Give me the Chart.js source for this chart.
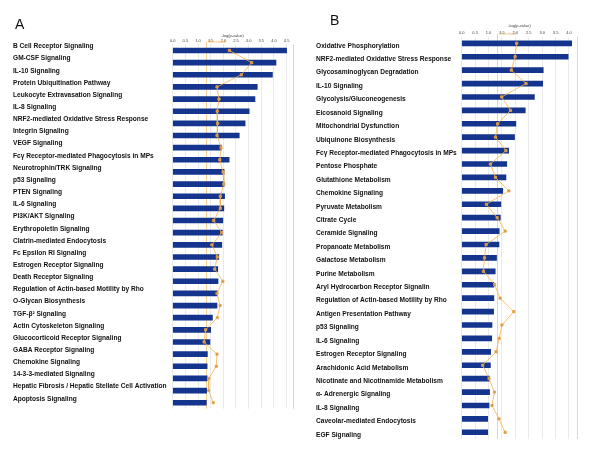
<!DOCTYPE html>
<html><head><meta charset="utf-8">
<script src="https://cdn.jsdelivr.net/npm/chart.js@4.4.1/dist/chart.umd.min.js"></script>
<style>
html,body{margin:0;padding:0;background:#fff;width:600px;height:450px;overflow:hidden;}
#wrap{position:relative;width:600px;height:450px;}
canvas{position:absolute;top:0;}
#cA{left:0;} #cB{left:300px;}
.panel{position:absolute;font-family:"Liberation Sans",Arial,sans-serif;font-size:14px;line-height:14px;color:#111;}
</style></head><body>
<div id="wrap">
<canvas id="cA" width="300" height="450"></canvas>
<canvas id="cB" width="300" height="450"></canvas>
<div class="panel" style="left:15px;top:16.5px;">A</div>
<div class="panel" style="left:330px;top:13px;">B</div>
</div>
<script>
const THRESHOLD = 1.3;

const labelsA = ["B Cell Receptor Signaling","GM-CSF Signaling","IL-10 Signaling","Protein Ubiquitination Pathway","Leukocyte Extravasation Signaling","IL-8 Signaling","NRF2-mediated Oxidative Stress Response","Integrin Signaling","VEGF Signaling","Fc\u03B3 Receptor-mediated Phagocytosis in MPs","Neurotrophin/TRK Signaling","p53 Signaling","PTEN Signaling","IL-6 Signaling","PI3K/AKT Signaling","Erythropoietin Signaling","Clatrin-mediated Endocytosis","Fc Epsilon RI Signaling","Estrogen Receptor Signaling","Death Receptor Signaling","Regulation of Actin-based Motility by Rho","O-Glycan Biosynthesis","TGF-\u03B2\u00B2 Signaling","Actin Cytoskeleton Signaling","Glucocorticoid Receptor Signaling","GABA Receptor Signaling","Chemokine Signaling","14-3-3-mediated Signaling","Hepatic Fibrosis / Hepatic Stellate Cell Activation","Apoptosis Signaling"];
const pValuesA = [4.50,4.08,3.94,3.34,3.25,3.02,2.86,2.63,1.92,2.23,2.03,2.03,2.05,2.02,1.98,1.96,1.94,1.82,1.78,1.79,1.76,1.75,1.57,1.50,1.47,1.37,1.36,1.36,1.34,1.33];
const ratioA = [2.24,3.12,2.71,1.75,1.83,1.76,1.78,1.75,1.91,1.86,1.99,2.02,1.88,1.88,1.62,1.94,1.55,1.76,1.66,1.98,1.75,1.87,1.76,1.30,1.24,1.75,1.72,1.43,1.42,1.60];

const labelsB = ["Oxidative Phosphorylation","NRF2-mediated Oxidative Stress Response","Glycosaminoglycan Degradation","IL-10 Signaling","Glycolysis/Gluconeogenesis","Eicosanoid Signaling","Mitochondrial Dysfunction","Ubiquinone Biosynthesis","Fc\u03B3 Receptor-mediated Phagocytosis in MPs","Pentose Phosphate","Glutathione Metabolism","Chemokine Signaling","Pyruvate Metabolism","Citrate Cycle","Ceramide Signaling","Propanoate Metabolism","Galactose Metabolism","Purine Metabolism","Aryl Hydrocarbon Receptor Signalin","Regulation of Actin-based Motility by Rho","Antigen Presentation Pathway","p53 Signaling","IL-6 Signaling","Estrogen Receptor Signaling","Arachidonic Acid Metabolism","Nicotinate and Nicotinamide Metabolism","\u03B1- Adrenergic Signaling","IL-8 Signaling","Caveolar-mediated Endocytosis","EGF Signaling"];
const pValuesB = [4.10,3.97,3.04,3.02,2.71,2.37,2.02,1.97,1.75,1.68,1.65,1.53,1.46,1.44,1.40,1.39,1.30,1.25,1.20,1.20,1.19,1.13,1.12,1.08,1.07,1.03,1.04,1.02,0.97,0.97];
const ratioB = [2.05,1.99,1.85,2.40,1.49,1.82,1.34,1.26,1.65,1.07,1.26,1.76,0.92,1.32,1.62,0.91,0.85,0.81,1.23,1.43,1.94,1.50,1.40,1.28,0.78,1.02,1.22,1.13,1.39,1.62];

Chart.defaults.font.family = '"Liberation Sans", Arial, sans-serif';

const extras = {
  id:'extras',
  beforeDatasetsDraw(chart){
    const {ctx, chartArea:a, scales:{x}} = chart;
    ctx.save();
    ctx.strokeStyle = '#d6d6d6'; ctx.lineWidth = 1;
    ctx.beginPath(); ctx.moveTo(Math.round(a.right)+0.5, a.top); ctx.lineTo(Math.round(a.right)+0.5, a.bottom); ctx.stroke();
    const tx = Math.round(x.getPixelForValue(THRESHOLD))+0.5;
    ctx.strokeStyle = 'rgba(245,175,70,0.55)';
    ctx.beginPath(); ctx.moveTo(tx, a.top - 3); ctx.lineTo(tx, a.bottom); ctx.stroke();
    ctx.fillStyle = 'rgba(240,160,50,0.8)';
    ctx.font = '4px "Liberation Sans", Arial';
    ctx.textAlign = 'left'; ctx.textBaseline = 'bottom';
    ctx.fillText('Threshold', tx + 1, a.top - 0.5);
    ctx.restore();
  }
};

function makeChart(id, labels, pvals, ratio, o){
  return new Chart(document.getElementById(id), {
    type:'bar',
    data:{labels:labels, datasets:[
      {type:'line', label:'Ratio', data:ratio, indexAxis:'y', borderColor:'#f6b34c', borderWidth:0.8, tension:0,
       pointStyle:'rect', pointRadius:1.6, pointBackgroundColor:'#b99a70', pointBorderColor:'#f2a53a', pointBorderWidth:0.8, order:0, fill:false},
      {type:'bar', label:'-log(p-value)', data:pvals, backgroundColor:'#14348e', borderWidth:0, barThickness:o.barT, order:1}
    ]},
    options:{
      indexAxis:'y', responsive:false, animation:false, devicePixelRatio:1,
      layout:{padding:o.pad},
      plugins:{legend:{display:false}, tooltip:{enabled:false}},
      scales:{
        x:{type:'linear', position:'top', min:0, max:o.max,
           ticks:{stepSize:0.5, includeBounds:false, font:{size:4}, color:'#444', padding:1, maxRotation:0, autoSkip:false, callback:v=>Number(v).toFixed(1)},
           grid:{color:'#e4e4e4', lineWidth:0.8, drawTicks:false}, border:{display:false},
           title:{display:true, text:'-log(p-value)', font:{size:4}, color:'#444', padding:{top:o.tp, bottom:0}},
           afterFit:s=>{s.height=o.xH;}},
        y:{type:'category', offset:true,
           ticks:{autoSkip:false, crossAlign:'far', labelOffset:o.lo, font:{size:6.6, weight:'bold'}, color:'#111', padding:0},
           grid:{display:false}, border:{display:false},
           afterFit:s=>{s.width=o.yW;}}
      }
    },
    plugins:[extras]
  });
}

makeChart('cA', labelsA, pValuesA, ratioA, {pad:{left:13,right:7.3,top:30,bottom:41.2}, xH:14.4, yW:159.7, max:4.74, lo:-4, barT:5, tp:3});
makeChart('cB', labelsB, pValuesB, ratioB, {pad:{left:16,right:22.7,top:22,bottom:11}, xH:14.6, yW:145.7, max:4.31, lo:2.5, barT:5, tp:1});
</script>
</body></html>
